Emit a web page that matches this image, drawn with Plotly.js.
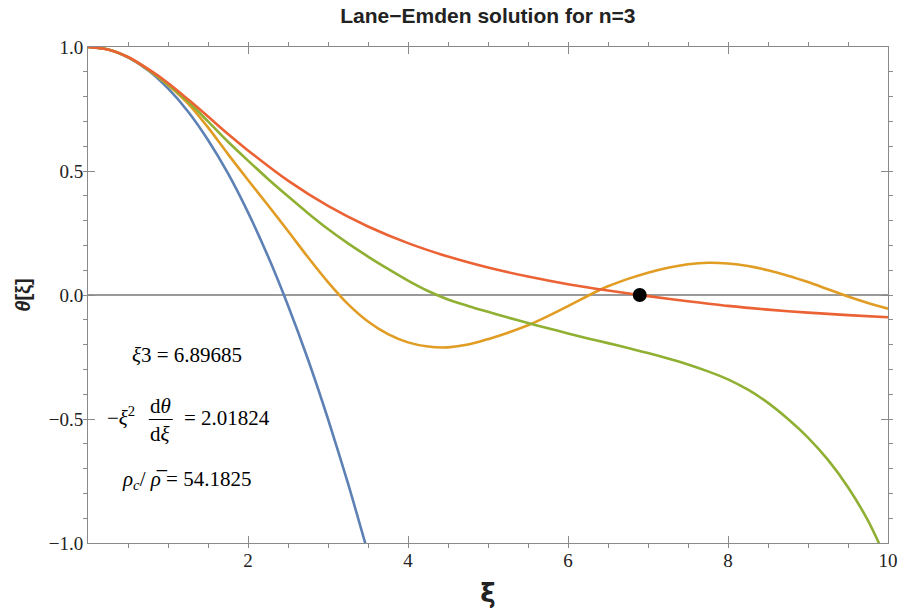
<!DOCTYPE html>
<html>
<head>
<meta charset="utf-8">
<script src="https://cdn.plot.ly/plotly-3.0.1.min.js"></script>
<style>html,body{margin:0;padding:0;background:#fff;}#chart{width:901px;height:613px;}</style>
</head>
<body>
<div id="chart"></div>
<script>
// ξ sample positions
const xiBlue = [0, 0.25, 0.5, 0.75, 1, 1.25, 1.5, 1.75, 2, 2.25, 2.5, 2.75, 3, 3.25, 3.5];
const thetaBlue = [1, 0.990, 0.958, 0.906, 0.833, 0.740, 0.625, 0.490, 0.333, 0.156, -0.042, -0.260, -0.500, -0.760, -1.04];

const xiCurve = [0, 0.25, 0.5, 0.75, 1, 1.25, 1.5, 1.75, 2, 2.25, 2.5, 2.75, 3, 3.25, 3.5, 3.75, 4, 4.25, 4.5, 4.75,
                 5, 5.25, 5.5, 5.75, 6, 6.25, 6.5, 6.75, 7, 7.25, 7.5, 7.75, 8, 8.25, 8.5, 8.75, 9, 9.25, 9.5, 9.75, 10];
const thetaOrange = [1, 0.990, 0.959, 0.909, 0.847, 0.772, 0.676, 0.568, 0.464, 0.362, 0.258, 0.152, 0.052, -0.037, -0.107, -0.158, -0.191, -0.208, -0.211, -0.200,
                     -0.178, -0.152, -0.122, -0.085, -0.045, -0.003, 0.035, 0.065, 0.090, 0.110, 0.124, 0.130, 0.127, 0.117, 0.100, 0.078, 0.052, 0.023, -0.006, -0.032, -0.055];
const thetaGreen = [1, 0.990, 0.959, 0.910, 0.850, 0.780, 0.700, 0.618, 0.542, 0.468, 0.398, 0.330, 0.266, 0.208, 0.155, 0.105, 0.058, 0.016, -0.018, -0.044,
                    -0.068, -0.091, -0.113, -0.134, -0.155, -0.175, -0.194, -0.214, -0.234, -0.256, -0.280, -0.308, -0.340, -0.382, -0.435, -0.500, -0.575, -0.665, -0.775, -0.910, -1.080];

const xiRed = [0, 0.25, 0.5, 0.75, 1, 1.25, 1.5, 1.75, 2, 2.5, 3, 3.5, 4, 4.5, 5, 5.5, 6, 6.5, 6.89685, 7, 7.5, 8, 8.5, 9, 9.5, 10];
const thetaRed = [1, 0.9896, 0.9598, 0.9115, 0.8550, 0.7890, 0.7195, 0.6490, 0.5829, 0.4611, 0.3592, 0.2763, 0.2092, 0.1551, 0.1109, 0.0745, 0.0437, 0.0181, 0, -0.0045, -0.025, -0.044, -0.059, -0.071, -0.081, -0.090];

const xiZero = [6.89685];
const thetaZero = [0];

const xTickVals = [2, 4, 6, 8, 10];
const xTickText = ['2', '4', '6', '8', '10'];
const yTickVals = [-1, -0.5, 0, 0.5, 1];
const yTickText = ['\u22121.0', '\u22120.5', '0.0', '0.5', '1.0'];

const lw = 2.6;
const traces = [
  {x: xiBlue, y: thetaBlue, mode: 'lines', line: {color: '#5E81B5', width: lw, shape: 'spline', smoothing: 0.8}, hoverinfo: 'skip'},
  {x: xiCurve, y: thetaOrange, mode: 'lines', line: {color: '#E19C24', width: lw, shape: 'spline', smoothing: 0.8}, hoverinfo: 'skip'},
  {x: xiCurve, y: thetaGreen, mode: 'lines', line: {color: '#8FB032', width: lw, shape: 'spline', smoothing: 0.8}, hoverinfo: 'skip'},
  {x: xiRed, y: thetaRed, mode: 'lines', line: {color: '#EB6235', width: lw, shape: 'spline', smoothing: 0.8}, hoverinfo: 'skip'},
  {x: xiZero, y: thetaZero, mode: 'markers', marker: {color: '#000', size: 14}, hoverinfo: 'skip'}
];

const serif = 'Liberation Serif, DejaVu Serif, serif';
const annFont = {family: serif, size: 21, color: '#000'};
const layout = {
  width: 901, height: 613,
  margin: {l: 88, r: 13, t: 47, b: 70},
  paper_bgcolor: '#fff', plot_bgcolor: '#fff',
  showlegend: false,
  title: {text: '<b>Lane\u2212Emden solution for n=3</b>', x: 0.5415, xanchor: 'center', y: 0.975, yanchor: 'middle',
          font: {family: 'Liberation Sans, Arial, sans-serif', size: 21, color: '#222'}},
  xaxis: {
    range: [0, 10], showgrid: false, zeroline: false,
    showline: true, linecolor: '#8a8a8a', linewidth: 1, mirror: 'ticks',
    ticks: 'inside', ticklen: 7, tickcolor: '#8a8a8a', tickwidth: 1,
    tickmode: 'array', tickvals: xTickVals, ticktext: xTickText,
    tickfont: {family: serif, size: 19, color: '#222'},
    minor: {tickmode: 'linear', tick0: 0, dtick: 0.5, ticklen: 4, tickcolor: '#8a8a8a', showgrid: false},
    title: {text: '<b>\u03be</b>', font: {family: 'DejaVu Sans, sans-serif', size: 26, color: '#222'}, standoff: 14}
  },
  yaxis: {
    range: [-1, 1], showgrid: false,
    zeroline: true, zerolinecolor: '#9a9a9a', zerolinewidth: 1.2,
    showline: true, linecolor: '#8a8a8a', linewidth: 1, mirror: 'ticks',
    ticks: 'inside', ticklen: 7, tickcolor: '#8a8a8a', tickwidth: 1,
    tickmode: 'array', tickvals: yTickVals, ticktext: yTickText,
    tickfont: {family: serif, size: 19, color: '#222'},
    minor: {tickmode: 'linear', tick0: 0, dtick: 0.1, ticklen: 4, tickcolor: '#8a8a8a', showgrid: false},
    title: {text: '<b><i>\u03b8</i>[\u03be]</b>', font: {family: 'Liberation Sans, Arial, sans-serif', size: 20, color: '#222'}, standoff: 12}
  },
  annotations: [
    {xref: 'x', yref: 'y', x: 1.24, y: -0.242, text: '<i>\u03be</i>3 = 6.89685', showarrow: false, font: annFont},
    {xref: 'x', yref: 'y', x: 0.41, y: -0.490, text: '\u2212<i>\u03be</i><sup>2</sup>', showarrow: false, font: annFont},
    {xref: 'x', yref: 'y', x: 0.9, y: -0.446, text: 'd<i>\u03b8</i>', showarrow: false, font: annFont},
    {xref: 'x', yref: 'y', x: 0.9, y: -0.562, text: 'd<i>\u03be</i>', showarrow: false, font: annFont},
    {xref: 'x', yref: 'y', x: 1.17, y: -0.496, xanchor: 'left', text: '= 2.01824', showarrow: false, font: annFont},
    {xref: 'x', yref: 'y', x: 1.225, y: -0.746, text: '<i>\u03c1<sub>c</sub></i>/ <i>\u03c1\u0305</i> = 54.1825', showarrow: false, font: annFont}
  ],
  shapes: [
    {type: 'line', xref: 'x', yref: 'y', x0: 0.76, x1: 1.06, y0: -0.502, y1: -0.502, line: {color: '#000', width: 1}}
  ]
};

Plotly.newPlot('chart', traces, layout, {displayModeBar: false, staticPlot: true});
</script>
</body>
</html>
